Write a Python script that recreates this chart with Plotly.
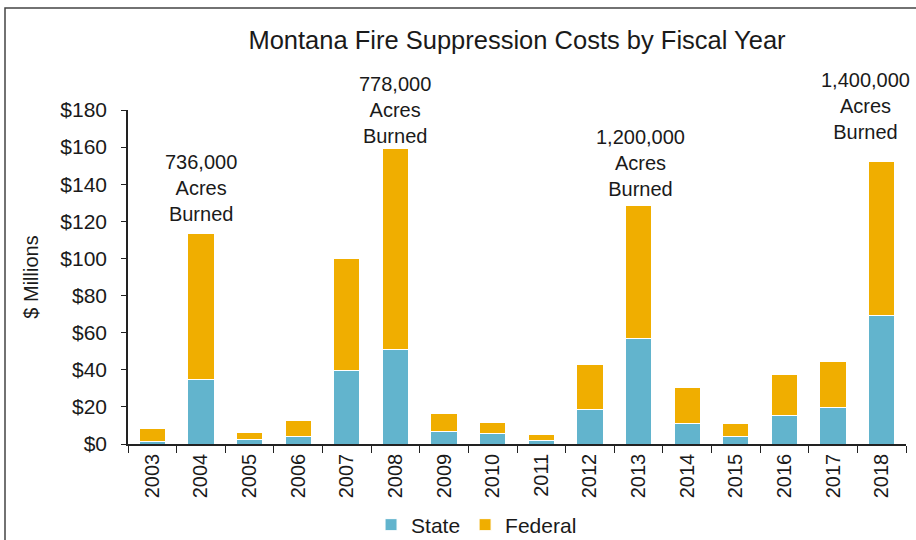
import plotly.graph_objects as go

years = ["2003", "2004", "2005", "2006", "2007", "2008", "2009", "2010",
         "2011", "2012", "2013", "2014", "2015", "2016", "2017", "2018"]
state = [1.6, 34.5, 2.4, 4.3, 39.5, 51, 6.5, 5.4, 1.8, 18.6, 57, 11.2, 4.1, 15.3, 19.8, 69]
total = [8.2, 113.2, 6.2, 12.6, 100, 159, 16.2, 11.6, 5.2, 43, 128.8, 30.5, 11.3, 37.5, 44.5, 152.5]
federal = [round(t - s, 2) for t, s in zip(total, state)]

acre_years = ["2004", "2008", "2013", "2018"]
acre_labels = ["736,000<br>Acres<br>Burned", "778,000<br>Acres<br>Burned",
               "1,200,000<br>Acres<br>Burned", "1,400,000<br>Acres<br>Burned"]

FONT = "Liberation Sans, Arial, sans-serif"
STATE_C = "#62B4CD"
FED_C = "#F0AE00"
TXT = "#1a1a1a"

fig = go.Figure()
fig.add_trace(go.Bar(x=years, y=state, name="State", marker_color=STATE_C,
                     marker_line=dict(color="white", width=1)))
fig.add_trace(go.Bar(x=years, y=federal, name="Federal", marker_color=FED_C,
                     marker_line=dict(color="white", width=1)))

yshifts = [46, 39, 42, 55]
xshifts = [0, 0, 2, -16]
for yr, lab, ys, xs in zip(acre_years, acre_labels, yshifts, xshifts):
    i = years.index(yr)
    fig.add_annotation(x=i, y=total[i], text=lab, showarrow=False, yanchor="middle",
                       yshift=ys, xshift=xs, font=dict(size=20, color=TXT, family=FONT))

# outer chart frame (extends past right/bottom edges)
fig.add_shape(type="rect", xref="paper", yref="paper",
              x0=(5 - 128) / 778, x1=1.2, y0=-0.6, y1=(444 - 8) / 334,
              line=dict(color="#444", width=1.5), fillcolor="rgba(0,0,0,0)", layer="below")

fig.update_layout(
    width=916, height=540,
    margin=dict(l=128, r=10, t=110, b=96, autoexpand=False),
    barmode="stack", bargap=0.46,
    paper_bgcolor="white", plot_bgcolor="white",
    font=dict(family=FONT, size=20, color=TXT),
    title=dict(text="Montana Fire Suppression Costs by Fiscal Year", x=0.5, xref="paper",
               y=1 - 40 / 540, yanchor="middle", xanchor="center",
               font=dict(size=25.5, family=FONT, color=TXT)),
    showlegend=True,
    legend=dict(orientation="h", x=0.448, xanchor="center", yref="container",
                y=1 - 525 / 540, yanchor="middle",
                font=dict(size=21, family=FONT, color=TXT), itemwidth=30, traceorder="normal"),
    xaxis=dict(type="category", tickangle=-90, showline=True, linecolor="#222", linewidth=1.5,
               ticks="outside", tickson="boundaries", ticklen=7, tickcolor="#222",
               tickfont=dict(size=20, family=FONT, color=TXT), showgrid=False,
               automargin=False, range=[-0.5, 15.5]),
    yaxis=dict(range=[0, 180], dtick=20, tickprefix="$", showline=True, linecolor="#222",
               linewidth=1.5, ticks="outside", ticklen=5, tickcolor="#222", showgrid=False,
               zeroline=False, tickfont=dict(size=21, family=FONT, color=TXT),
               ticklabelstandoff=10, automargin=False,
               title=dict(text="$ Millions", font=dict(size=20, family=FONT, color=TXT),
                          standoff=16)),
)

fig.write_html("out.html", config={"displayModeBar": False},
               post_script="document.body.style.margin='0';document.body.style.overflow='hidden';")
